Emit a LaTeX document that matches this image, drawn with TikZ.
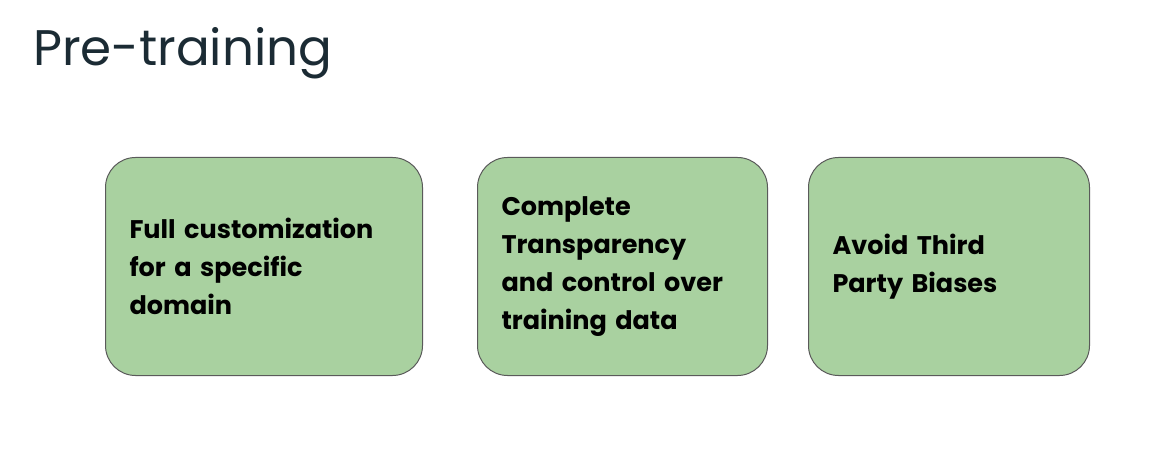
\documentclass[tikz,border=0pt]{standalone}
\usepackage{fontspec}
\setmainfont{Poppins}
\definecolor{titleink}{HTML}{1B2B34}
\definecolor{boxgreen}{HTML}{A9D1A0}
\definecolor{boxline}{HTML}{5A5A5A}
\begin{document}
\begin{tikzpicture}[x=1pt, y=-1pt,
    title/.style={anchor=base west, inner sep=0pt, text=titleink,
        font=\fontsize{50}{60}\selectfont},
    benefit/.style={anchor=north west, draw=boxline, line width=1pt,
        fill=boxgreen, rounded corners=30pt, minimum height=218pt,
        inner xsep=24pt, align=left,
        font=\fontsize{25.5}{38}\selectfont\bfseries}]

            \fill[white] (0, 0) rectangle (1170, 470);
            \useasboundingbox (0, 0) rectangle (1170, 470);

            \node[title] (heading) at (33, 66) {Pre-training};

            \node[benefit, text width=269pt] (domain) at (105, 157)
                {Full customization\\for a specific\\domain};
            \node[benefit, text width=242pt] (transparency) at (477, 157)
                {Complete\\Transparency\\and control over\\training data};
            \node[benefit, text width=233pt] (biases) at (808, 157)
                {Avoid Third\\Party Biases};

        \end{tikzpicture}
\end{document}
